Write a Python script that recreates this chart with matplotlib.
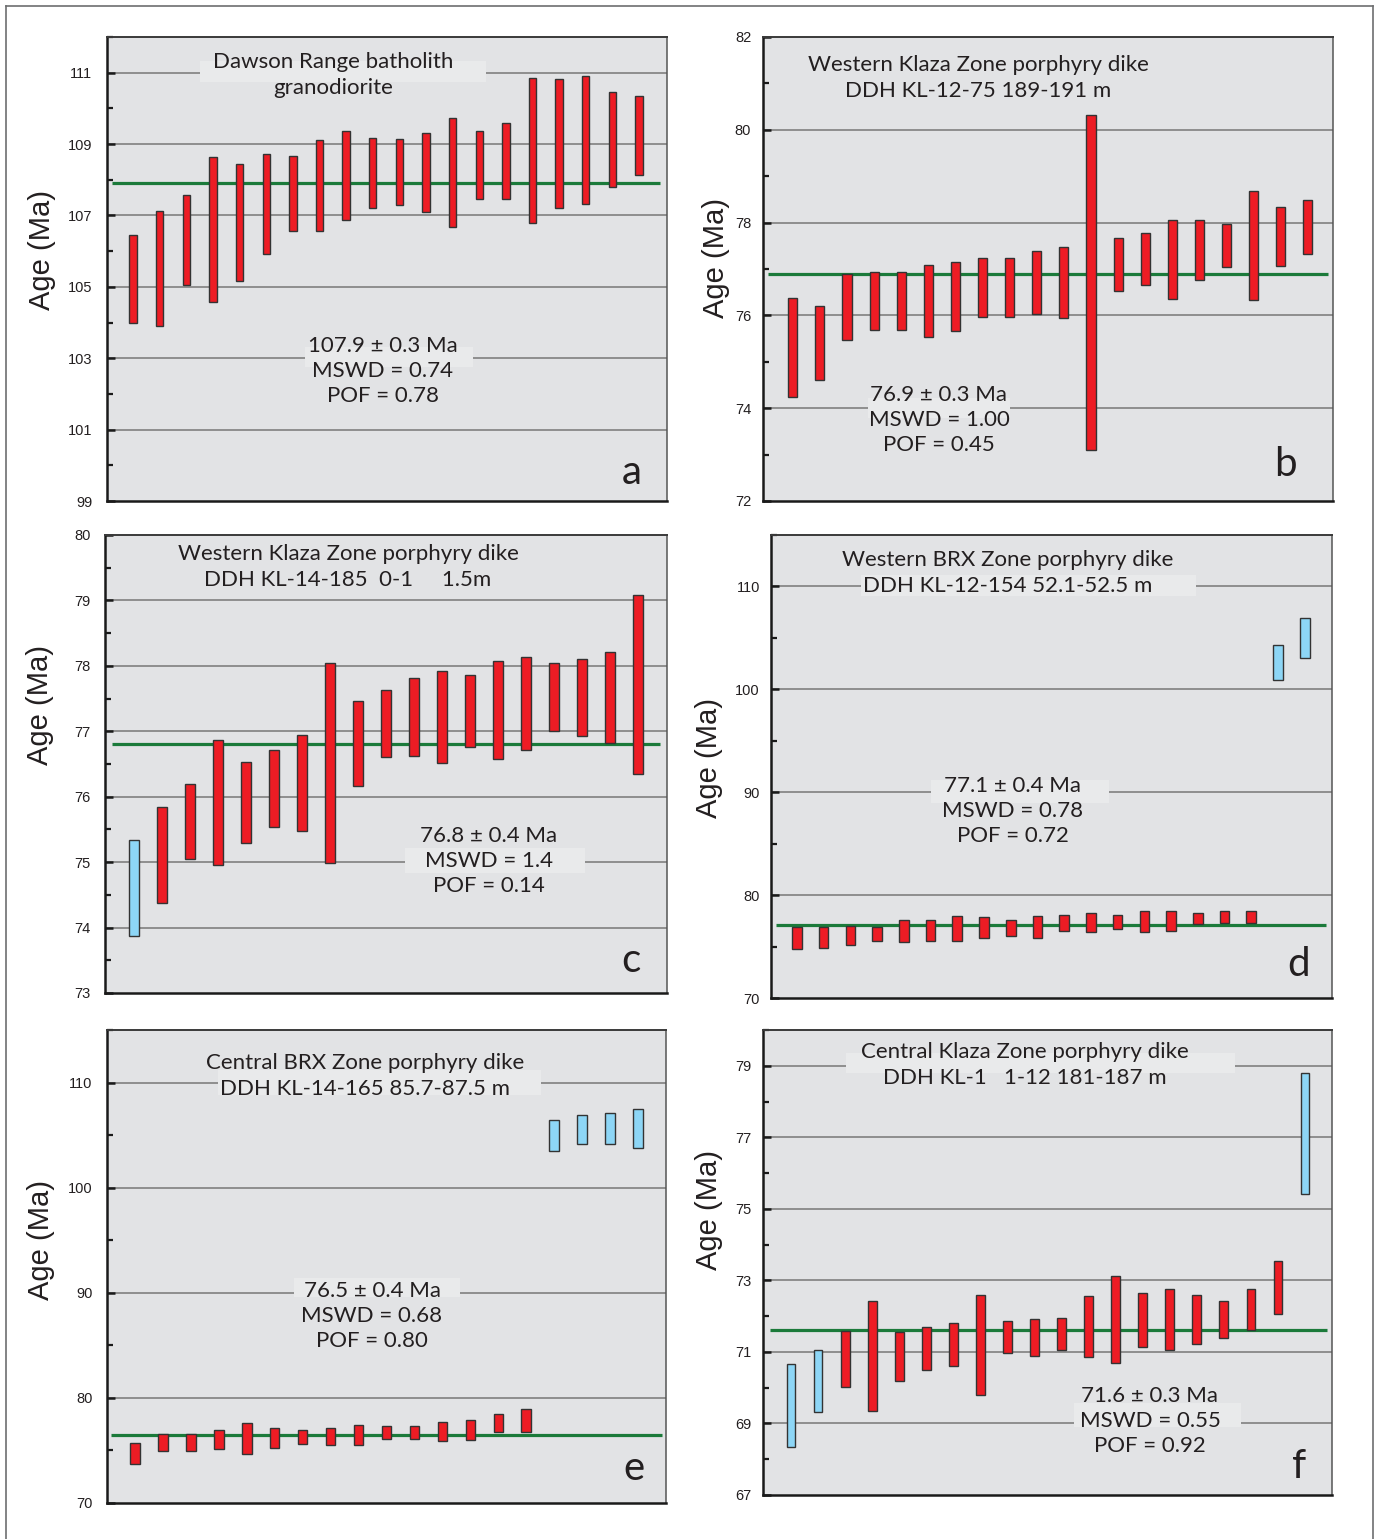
import matplotlib
matplotlib.use("Agg")
import numpy as np
import matplotlib.pyplot as plt
from matplotlib.patches import Rectangle
from matplotlib.lines import Line2D
from matplotlib.ticker import FixedLocator, FixedFormatter

# ---------------------------------------------------------------- data
# Each bar spans the 2-sigma range (low, high) of a single zircon age, Ma.

a_lo = [104.00, 103.90, 105.06, 104.58, 105.16, 105.93, 106.56, 106.56, 106.88, 107.20,
        107.28, 107.09, 106.69, 107.47, 107.47, 106.80, 107.20, 107.32, 107.79, 108.12]
a_hi = [106.45, 107.13, 107.58, 108.64, 108.45, 108.71, 108.67, 109.11, 109.36, 109.18,
        109.15, 109.32, 109.72, 109.36, 109.58, 110.85, 110.81, 110.92, 110.46, 110.35]
a_kind = ["r"] * 20

b_lo = [74.24, 74.61, 75.48, 75.69, 75.69, 75.54, 75.66, 75.97, 75.97, 76.02,
        75.94, 73.10, 76.53, 76.65, 76.36, 76.76, 77.04, 76.33, 77.06, 77.32]
b_hi = [76.37, 76.20, 76.90, 76.94, 76.94, 77.08, 77.16, 77.24, 77.24, 77.38,
        77.47, 80.31, 77.67, 77.78, 78.06, 78.06, 77.98, 78.68, 78.34, 78.48]
b_kind = ["r"] * 20

c_lo = [73.87, 74.38, 75.05, 74.95, 75.30, 75.53, 75.48, 74.99, 76.17, 76.60,
        76.62, 76.51, 76.76, 76.57, 76.72, 77.00, 76.93, 76.82, 76.34]
c_hi = [75.34, 75.84, 76.20, 76.86, 76.53, 76.71, 76.94, 78.04, 77.47, 77.63,
        77.81, 77.92, 77.86, 78.08, 78.13, 78.04, 78.10, 78.21, 79.08]
c_kind = ["b"] + ["r"] * 18

d_lo = [74.77, 74.90, 75.16, 75.52, 75.42, 75.55, 75.55, 75.81, 76.03, 75.81,
        76.55, 76.42, 76.68, 76.42, 76.55, 77.16, 77.29, 77.29, 100.90, 103.06]
d_hi = [76.87, 76.87, 77.00, 76.87, 77.61, 77.61, 77.97, 77.84, 77.61, 77.97,
        78.10, 78.23, 78.10, 78.48, 78.48, 78.23, 78.48, 78.48, 104.32, 106.97]
d_kind = ["r"] * 18 + ["b"] * 2

e_lo = [73.75, 74.91, 74.91, 75.13, 74.68, 75.20, 75.64, 75.52, 75.52, 76.13,
        76.13, 75.87, 75.97, 76.80, 76.73, 103.45, 104.12, 104.16, 103.80]
e_hi = [75.71, 76.61, 76.61, 76.93, 77.57, 77.09, 76.99, 77.18, 77.38, 77.31,
        77.34, 77.67, 77.92, 78.50, 78.92, 106.40, 106.95, 107.11, 107.46]
e_kind = ["r"] * 15 + ["b"] * 4

f_lo = [68.35, 69.33, 70.01, 69.36, 70.20, 70.49, 70.60, 69.80, 70.96, 70.90,
        71.05, 70.86, 70.69, 71.15, 71.05, 71.23, 71.39, 71.62, 72.07, 75.42]
f_hi = [70.65, 71.05, 71.59, 72.43, 71.57, 71.70, 71.81, 72.58, 71.86, 71.93,
        71.96, 72.55, 73.13, 72.65, 72.76, 72.58, 72.43, 72.76, 73.53, 78.81]
f_kind = ["b"] * 2 + ["r"] * 17 + ["b"]

# weighted mean ages and statistics
means = [107.9, 76.9, 76.8, 77.1, 76.5, 71.6]
errs = ["0.3", "0.3", "0.4", "0.4", "0.4", "0.3"]
mswd = ["0.74", "1.00", "1.4", "0.78", "0.68", "0.55"]
pof = ["0.78", "0.45", "0.14", "0.72", "0.80", "0.92"]

titles = [
    "Dawson Range batholith\ngranodiorite",
    "Western Klaza Zone porphyry dike\nDDH KL-12-75 189-191 m",
    "Western Klaza Zone porphyry dike\nDDH KL-14-185  0-1     1.5m",
    "Western BRX Zone porphyry dike\nDDH KL-12-154 52.1-52.5 m",
    "Central BRX Zone porphyry dike\nDDH KL-14-165 85.7-87.5 m",
    "Central Klaza Zone porphyry dike\nDDH KL-1   1-12 181-187 m",
]
letters = ["a", "b", "c", "d", "e", "f"]

# y axis: limits, labelled major ticks, minor ticks
a_ylim, a_major, a_minor = (99, 112), list(range(99, 112, 2)), list(range(100, 113, 2))
b_ylim, b_major, b_minor = (72, 82), list(range(72, 83, 2)), list(range(73, 82, 2))
c_ylim, c_major, c_minor = (73, 80), list(range(73, 81)), [v + 0.5 for v in range(73, 80)]
d_ylim, d_major, d_minor = (70, 115), list(range(70, 111, 10)), list(range(75, 116, 10))
e_ylim, e_major, e_minor = (70, 115), list(range(70, 111, 10)), list(range(75, 116, 10))
f_ylim, f_major, f_minor = (67, 80), list(range(67, 80, 2)), list(range(68, 81, 2))

# ---------------------------------------------------------------- style
W, H = 1378, 1539
RED = "#ed1c24"
BLUE = "#8dd6f6"
EDGE = "#333333"
GREEN = "#1b7a3a"
BG = "#e2e3e5"
BOX = "#e9eaeb"
GRID = "#8e8e8e"
TXT = "#231f20"
FONT = ["Lato", "DejaVu Sans"]
TICKFONT = ["Liberation Sans", "DejaVu Sans"]

fig = plt.figure(figsize=(W / 100, H / 100), dpi=100)
fig.patch.set_facecolor("white")

# outer frame
fr = dict(color="#6d6e70", lw=1.2, transform=fig.transFigure)
fig.add_artist(Line2D([6 / W, 1372.5 / W], [1 - 6 / H, 1 - 6 / H], **fr))
fig.add_artist(Line2D([6 / W, 6 / W], [0, 1 - 6 / H], **fr))
fig.add_artist(Line2D([1372.5 / W, 1372.5 / W], [0, 1 - 6 / H], **fr))

panels = [
    dict(lo=a_lo, hi=a_hi, kind=a_kind, ylim=a_ylim, major=a_major, minor=a_minor,
         rect=(107, 37, 667, 501), xlim=(0.02, 21.05), width=0.275, green=(0.2, 20.8),
         title_xy=(333, 75), stats_xy=(383, 371), letter_xy=(632, 473), ylab_xy=(42, 250),
         boxes=[(200, 61, 486, 82), (305, 347, 473, 367)], pad=10.5),
    dict(lo=b_lo, hi=b_hi, kind=b_kind, ylim=b_ylim, major=b_major, minor=b_minor,
         rect=(763, 37, 1333, 501), xlim=(-0.1, 20.93), width=0.335, green=(0.1, 20.75),
         title_xy=(978, 78), stats_xy=(939, 420), letter_xy=(1285, 464), ylab_xy=(716, 258),
         boxes=[(868, 398, 1010, 418)], pad=8.5),
    dict(lo=c_lo, hi=c_hi, kind=c_kind, ylim=c_ylim, major=c_major, minor=c_minor,
         rect=(105, 535, 667, 993), xlim=(-0.04, 20.05), width=0.35, green=(0.2, 19.8),
         title_xy=(348, 567), stats_xy=(489, 861), letter_xy=(631, 960), ylab_xy=(40, 705),
         boxes=[(405, 848, 585, 873)], pad=10.5),
    dict(lo=d_lo, hi=d_hi, kind=d_kind, ylim=d_ylim, major=d_major, minor=d_minor,
         rect=(771, 535, 1332, 998), xlim=(0.03, 21.02), width=0.36, green=(0.23, 20.8),
         title_xy=(1008, 573), stats_xy=(1013, 811), letter_xy=(1299, 965), ylab_xy=(709, 758),
         boxes=[(861, 575, 1196, 596), (931, 780, 1109, 803)], pad=8.0),
    dict(lo=e_lo, hi=e_hi, kind=e_kind, ylim=e_ylim, major=e_major, minor=e_minor,
         rect=(107, 1030, 666, 1503), xlim=(0.01, 19.99), width=0.35, green=(0.16, 19.85),
         title_xy=(365, 1076), stats_xy=(372, 1316), letter_xy=(634, 1469), ylab_xy=(41, 1240),
         boxes=[(218, 1070, 541, 1095), (294, 1278, 460, 1297)], pad=10.5),
    dict(lo=f_lo, hi=f_hi, kind=f_kind, ylim=f_ylim, major=f_major, minor=f_minor,
         rect=(763, 1030, 1332, 1495), xlim=(-0.04, 21.0), width=0.32, green=(0.22, 20.8),
         title_xy=(1025, 1065), stats_xy=(1150, 1421), letter_xy=(1299, 1467), ylab_xy=(709, 1210),
         boxes=[(846, 1053, 1235, 1073), (1074, 1403, 1241, 1427)], pad=8.5),
]

for i, p in enumerate(panels):
    x0, y0, x1, y1 = p["rect"]
    ax = fig.add_axes([x0 / W, 1 - y1 / H, (x1 - x0) / W, (y1 - y0) / H])
    ax.set_facecolor(BG)

    def frac(px, py, x0=x0, y0=y0, x1=x1, y1=y1):
        return (px - x0) / (x1 - x0), 1 - (py - y0) / (y1 - y0)

    ax.set_xlim(*p["xlim"])
    ax.set_ylim(*p["ylim"])

    # horizontal grid at labelled ages
    for v in p["major"]:
        if p["ylim"][0] < v < p["ylim"][1]:
            ax.axhline(v, color=GRID, lw=1.4, zorder=0.8)

    # light boxes behind the text blocks
    for bx0, by0, bx1, by1 in p["boxes"]:
        fx0, fy1 = frac(bx0, by0)
        fx1, fy0 = frac(bx1, by1)
        ax.add_patch(Rectangle((fx0, fy0), fx1 - fx0, fy1 - fy0, transform=ax.transAxes,
                               facecolor=BOX, edgecolor="none", zorder=1))

    # weighted mean age
    ax.hlines(means[i], p["green"][0], p["green"][1], color=GREEN, lw=2.3, zorder=2.5)

    # individual analyses
    xs = np.arange(1, len(p["lo"]) + 1)
    lo = np.array(p["lo"])
    hi = np.array(p["hi"])
    cols = [RED if k == "r" else BLUE for k in p["kind"]]
    ax.bar(xs, hi - lo, bottom=lo, width=p["width"], color=cols, edgecolor=EDGE,
           linewidth=1.0, zorder=3)

    # axes frame
    for side in ("left", "bottom"):
        ax.spines[side].set_color("#1a1a1a")
        ax.spines[side].set_linewidth(1.8)
    ax.spines["top"].set_color("#3a3a3a")
    ax.spines["top"].set_linewidth(1.4)
    ax.spines["right"].set_color("#555555")
    ax.spines["right"].set_linewidth(1.1)

    ax.set_xticks([])
    ax.yaxis.set_major_locator(FixedLocator(p["major"]))
    ax.yaxis.set_major_formatter(FixedFormatter([str(v) for v in p["major"]]))
    ax.yaxis.set_minor_locator(FixedLocator(p["minor"]))
    ax.tick_params(axis="y", which="major", direction="in", length=6, width=1.8,
                   color="#1a1a1a", pad=p["pad"], labelsize=10.5, labelcolor=TXT)
    ax.tick_params(axis="y", which="minor", direction="in", length=4.5, width=1.6,
                   color="#1a1a1a")
    for lab in ax.get_yticklabels():
        lab.set_family(TICKFONT)

    # y label
    lx, ly = frac(*p["ylab_xy"])
    ax.text(lx, ly, "Age (Ma)", transform=ax.transAxes, rotation=90, ha="center",
            va="center", fontsize=21, family=TICKFONT, color=TXT, clip_on=False)

    # sample description
    tx, ty = frac(*p["title_xy"])
    ax.text(tx, ty, titles[i], transform=ax.transAxes, ha="center", va="center",
            fontsize=16, family=FONT, color=TXT, linespacing=1.32, zorder=5)

    # statistics
    sx, sy = frac(*p["stats_xy"])
    stats = f"{means[i]} \u00b1 {errs[i]} Ma\nMSWD = {mswd[i]}\nPOF = {pof[i]}"
    ax.text(sx, sy, stats, transform=ax.transAxes, ha="center", va="center",
            fontsize=16, family=FONT, color=TXT, linespacing=1.32, zorder=5)

    # panel letter
    qx, qy = frac(*p["letter_xy"])
    ax.text(qx, qy, letters[i], transform=ax.transAxes, ha="center", va="center",
            fontsize=29, family=FONT, color=TXT, zorder=5)

fig.savefig("out.png", dpi=100, facecolor="white")
